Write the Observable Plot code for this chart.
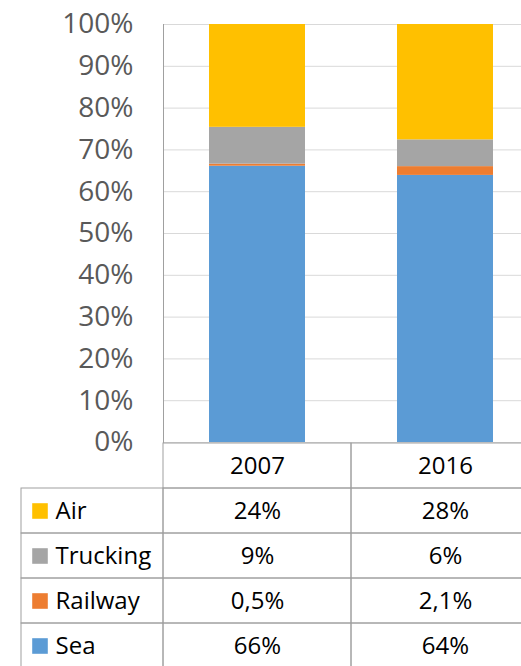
<!DOCTYPE html>
<html><head><meta charset="utf-8">
<script src="https://cdn.jsdelivr.net/npm/d3@7"></script>
<script src="https://cdn.jsdelivr.net/npm/@observablehq/plot@0.6"></script>
<style>
body{margin:0;background:#fff;}
#wrap{position:relative;width:521px;height:666px;overflow:hidden;background:#fff;}
#wrap svg{position:absolute;left:0;}
</style></head><body><div id="wrap"></div>
<script>
const years = ["2007", "2016"];
const modes = ["Sea", "Railway", "Trucking", "Air"];
const sea = [66.1, 63.9];
const railway = [0.5, 2.1];
const trucking = [8.8, 6.4];
const air = [24.6, 27.6];
const seaLabels = ["66%", "64%"];
const railwayLabels = ["0,5%", "2,1%"];
const truckingLabels = ["9%", "6%"];
const airLabels = ["24%", "28%"];
const tableModes = ["Air", "Trucking", "Railway", "Sea"];
const tableRows = ["header", "Air", "Trucking", "Railway", "Sea"];
const modeColors = ["#5B9BD5", "#ED7D31", "#A5A5A5", "#FFC000"];
const yTicks = [0, 10, 20, 30, 40, 50, 60, 70, 80, 90, 100];

const series = {Sea: sea, Railway: railway, Trucking: trucking, Air: air};
const labels = {Sea: seaLabels, Railway: railwayLabels, Trucking: truckingLabels, Air: airLabels};
const stacked = modes.flatMap(m => years.map((yr, i) => ({year: yr, mode: m, value: series[m][i]})));
const cells = tableModes.flatMap(m => years.map((yr, i) => ({year: yr, mode: m, label: labels[m][i]})));
const grid = tableRows.flatMap(r => years.map(yr => ({year: yr, row: r})));

const font = "'Open Sans', 'Liberation Sans', sans-serif";
const wrap = document.getElementById("wrap");

const chart = Plot.plot({
  width: 539, height: 466,
  marginTop: 24, marginBottom: 24, marginLeft: 163, marginRight: 0,
  style: {fontFamily: font, fontSize: "28px", color: "#595959", background: "transparent", maxWidth: "none", overflow: "visible", top: "0px"},
  x: {domain: years, paddingInner: 0.49, paddingOuter: 0.245, axis: null},
  y: {domain: [0, 100], ticks: yTicks, tickFormat: d => d + "%", tickSize: 0, tickPadding: 30, label: null},
  color: {domain: modes, range: modeColors},
  marks: [
    Plot.ruleY(yTicks, {stroke: "#d9d9d9", strokeWidth: 1}),
    Plot.barY(stacked, {x: "year", y: "value", fill: "mode", order: modes}),
    Plot.frame({anchor: "left", stroke: "#a0a0a0"})
  ]
});
wrap.appendChild(chart);

const table = Plot.plot({
  width: 539, height: 240,
  marginTop: 0, marginBottom: 0, marginLeft: 163, marginRight: 0,
  style: {fontFamily: font, fontSize: "24px", color: "#000", background: "transparent", maxWidth: "none", top: "442px"},
  x: {domain: years, padding: 0, axis: null},
  y: {domain: tableRows, padding: 0, range: [0, 226], axis: null},
  color: {domain: modes, range: modeColors},
  marks: [
    Plot.cell(grid, {x: "year", y: "row", fill: "none", stroke: "#a0a0a0"}),
    Plot.cell(tableModes, {x: () => years[0], y: d => d, dx: -188, insetLeft: 46, fill: "none", stroke: "#a0a0a0"}),
    Plot.dot(tableModes, {y: d => d, frameAnchor: "left", dx: -123.5, symbol: "square", r: 8.8, fill: d => d, stroke: null}),
    Plot.text(tableModes, {y: d => d, frameAnchor: "left", dx: -108, textAnchor: "start", text: d => d, fill: "#000"}),
    Plot.text(years, {x: d => d, y: () => "header", text: d => d, fill: "#000"}),
    Plot.text(cells, {x: "year", y: "mode", text: "label", fill: "#000"})
  ]
});
wrap.appendChild(table);
</script>
</body></html>
